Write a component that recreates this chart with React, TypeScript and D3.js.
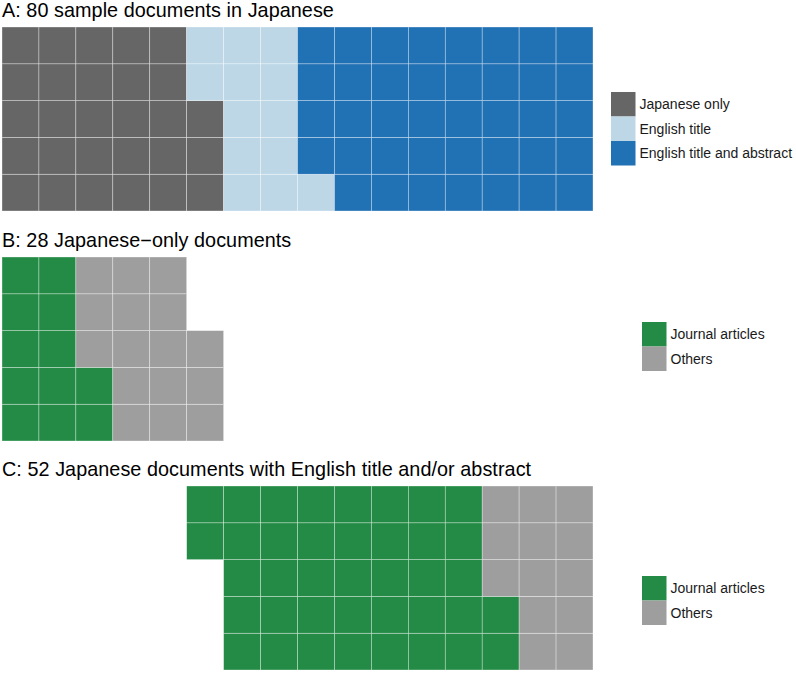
import React, { useEffect, useRef } from 'react';
import * as d3 from 'd3';

// panel A
const docTypes = ['Japanese only', 'English title', 'English title and abstract'];
const docCounts = [28, 13, 39];
const docColors = ['#666666', '#bdd7e7', '#2171b5'];

// panel B / C
const pubTypes = ['Journal articles', 'Others'];
const pubColors = ['#238b45', '#9e9e9e'];
const jpOnlyCounts = [12, 16];
const englishCounts = [39, 13];

const NROWS = 5;
const NCOLS = 16;

const panels = [
  { title: 'A: 80 sample documents in Japanese', cats: docTypes, counts: docCounts, colors: docColors, skip: 0, titleY: 17, top: 27, legendX: 611, legendY: 92 },
  { title: 'B: 28 Japanese\u2212only documents', cats: pubTypes, counts: jpOnlyCounts, colors: pubColors, skip: 0, titleY: 247, top: 257, legendX: 642, legendY: 322 },
  { title: 'C: 52 Japanese documents with English title and/or abstract', cats: pubTypes, counts: englishCounts, colors: pubColors, skip: 28, titleY: 476, top: 486, legendX: 642, legendY: 576 },
];

const App = () => {
  const svgRef = useRef<SVGSVGElement>(null);

  useEffect(() => {
    const width = 796;
    const height = 673;
    const svg = d3.select(svgRef.current).attr('width', width).attr('height', height);
    svg.selectAll('*').remove();

    const x = d3.scaleBand<number>().domain(d3.range(NCOLS)).range([2, 593]).padding(0);
    const keySize = 24.5;
    const font = 'Liberation Sans, Arial, sans-serif';

    panels.forEach(p => {
      const g = svg.append('g');
      const y = d3.scaleBand<number>().domain(d3.range(NROWS)).range([p.top, p.top + 184]).padding(0);

      // expand counts into cells, column by column, bottom up
      const cells: { i: number; cat: number }[] = [];
      let idx = p.skip;
      p.counts.forEach((n, c) => {
        for (let k = 0; k < n; k++) cells.push({ i: idx++, cat: c });
      });

      g.selectAll('rect.cell')
        .data(cells)
        .enter()
        .append('rect')
        .attr('class', 'cell')
        .attr('x', d => x(Math.floor(d.i / NROWS))!)
        .attr('y', d => y(NROWS - 1 - (d.i % NROWS))!)
        .attr('width', x.bandwidth())
        .attr('height', y.bandwidth())
        .attr('fill', d => p.colors[d.cat])
        .attr('stroke', 'rgba(255,255,255,0.55)')
        .attr('stroke-width', 0.6);

      g.append('text')
        .attr('x', 2)
        .attr('y', p.titleY)
        .attr('font-family', font)
        .attr('font-size', 19.8)
        .attr('letter-spacing', 0.06)
        .attr('fill', '#000')
        .text(p.title);

      // legend
      const lg = g.append('g').attr('transform', `translate(${p.legendX},${p.legendY})`);
      const items = lg.selectAll('g').data(p.cats).enter().append('g')
        .attr('transform', (_, i) => `translate(0,${i * keySize})`);
      items.append('rect')
        .attr('width', keySize)
        .attr('height', keySize)
        .attr('fill', (_, i) => p.colors[i]);
      items.append('text')
        .attr('x', keySize + 4)
        .attr('y', keySize / 2)
        .attr('dy', '0.35em')
        .attr('font-family', font)
        .attr('font-size', 14)
        .attr('fill', '#1a1a1a')
        .text(d => d);
    });
  }, []);

  return (
    <div style={{ position: 'absolute', left: 0, top: 0, width: 796, height: 673, background: '#fff' }}>
      <svg ref={svgRef} style={{ display: 'block' }}></svg>
    </div>
  );
};

export default App;
